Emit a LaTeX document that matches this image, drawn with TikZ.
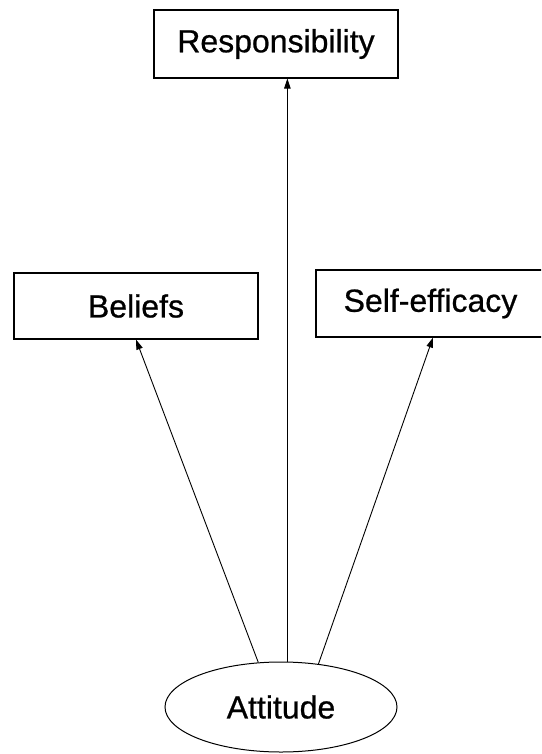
\documentclass[tikz,border=0pt]{standalone}
\usepackage{fontspec}
\setmainfont{Liberation Sans}
% regular Arial-metric face, slightly thickened for the labels
\newfontfamily\labelfont{Liberation Sans}[BoldFont={Liberation Sans}, BoldFeatures={FakeBold=0.7}]
\usetikzlibrary{shapes.geometric,arrows.meta,calc}
\begin{document}
\begin{tikzpicture}[x=1pt,y=-1pt,
  concept/.style={draw, line width=1.1pt, rectangle, inner sep=0pt,
    font=\labelfont\bfseries\fontsize{32}{38}\selectfont},
  construct/.style={draw, line width=1pt, ellipse, inner sep=0pt,
    font=\labelfont\bfseries\fontsize{32}{38}\selectfont},
  link/.style={line width=0.9pt, -{Triangle[length=10pt,width=6.5pt]}}]
  \useasboundingbox (0,0) rectangle (541,754);
  \clip (0,0) rectangle (541,754);
  % outcome boxes
  \node[concept, minimum width=244pt, minimum height=68pt] (resp) at (276,44) {Responsibility};
  \node[concept, minimum width=244pt, minimum height=66pt] (bel) at (136,306) {Beliefs};
  \node[concept, minimum width=229pt, minimum height=67pt] (self) at (430.5,303.5) {Self-efficacy};
  % source construct
  \node[construct, minimum width=232pt, minimum height=90pt] (att) at (281,707) {Attitude};
  % paths from attitude
  \draw[link] (att.117) -- (bel.south);
  \draw[link] (att.82) -- (att.82 |- resp.south);
  \draw[link] (att.49) -- ($(self.south)+(2.5,0)$);
\end{tikzpicture}
\end{document}
